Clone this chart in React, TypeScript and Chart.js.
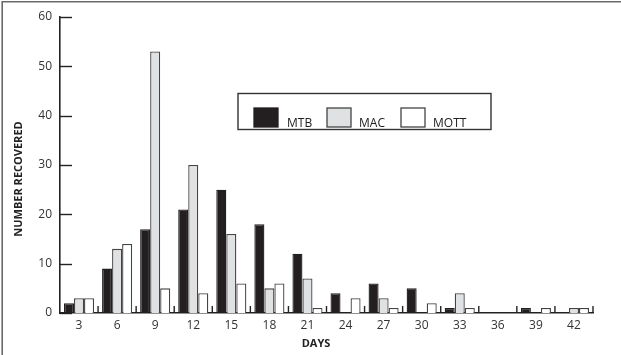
import React, { useEffect, useRef } from 'react';
import { Chart, registerables } from 'chart.js';

Chart.register(...registerables);

const days = ['3', '6', '9', '12', '15', '18', '21', '24', '27', '30', '33', '36', '39', '42'];
const mtb = [2, 9, 17, 21, 25, 18, 12, 4, 6, 5, 1, 0, 1, 0];
const mac = [3, 13, 53, 30, 16, 5, 7, 0, 3, 0, 4, 0, 0, 1];
const mott = [3, 14, 5, 4, 6, 6, 1, 3, 1, 2, 1, 0, 1, 1];
const seriesNames = ['MTB', 'MAC', 'MOTT'];
const xTitle = 'DAYS';
const yTitle = 'NUMBER RECOVERED';
const yMin = 0;
const yMax = 60;
const yStep = 10;

const FONT = "'Open Sans', 'Noto Sans', sans-serif";

const framePlugin = {
  id: 'frame',
  afterDraw(chart: any) {
    const { ctx, width, height } = chart;
    ctx.save();
    ctx.strokeStyle = '#6a6a6a';
    ctx.lineWidth = 1.6;
    ctx.beginPath();
    ctx.moveTo(2.2, height);
    ctx.lineTo(2.2, 1.8);
    ctx.lineTo(width, 1.8);
    ctx.stroke();
    ctx.restore();
  },
};

const axisTicksPlugin = {
  id: 'axisTicks',
  afterDraw(chart: any) {
    const { ctx } = chart;
    const x = chart.scales.x;
    const y = chart.scales.y;
    ctx.save();
    ctx.strokeStyle = '#222';
    ctx.lineWidth = 1.4;
    y.ticks.forEach((t: any) => {
      const py = Math.round(y.getPixelForValue(t.value)) + 0.5;
      ctx.beginPath();
      ctx.moveTo(x.left, py);
      ctx.lineTo(x.left + 12, py);
      ctx.stroke();
    });
    const n = x.ticks.length;
    const w = (x.right - x.left) / n;
    for (let i = 1; i <= n; i++) {
      const px = x.left + i * w;
      ctx.beginPath();
      ctx.moveTo(px, y.bottom);
      ctx.lineTo(px, y.bottom - 7);
      ctx.stroke();
    }
    ctx.restore();
  },
};

const axisTitlesPlugin = {
  id: 'axisTitles',
  afterDraw(chart: any, _args: any, opts: any) {
    const { ctx } = chart;
    ctx.save();
    ctx.fillStyle = '#222';
    ctx.font = `bold 11px ${FONT}`;
    ctx.textAlign = 'center';
    ctx.textBaseline = 'middle';
    ctx.fillText(opts.xText, opts.xPos[0], opts.xPos[1]);
    ctx.translate(opts.yPos[0], opts.yPos[1]);
    ctx.rotate(-Math.PI / 2);
    ctx.fillText(opts.yText, 0, 0);
    ctx.restore();
  },
};

const boxLegendPlugin = {
  id: 'boxLegend',
  afterDraw(chart: any, _args: any, opts: any) {
    const { ctx } = chart;
    const { left, top, width, height, swatchX, labelX, swatchTop, swatchW, swatchH, baseline } = opts;
    ctx.save();
    ctx.strokeStyle = '#333';
    ctx.lineWidth = 1.4;
    ctx.strokeRect(left, top, width, height);
    chart.data.datasets.forEach((ds: any, i: number) => {
      ctx.fillStyle = ds.backgroundColor;
      ctx.fillRect(swatchX[i], swatchTop, swatchW, swatchH);
      ctx.strokeStyle = ds.borderColor;
      ctx.lineWidth = 1.3;
      ctx.strokeRect(swatchX[i], swatchTop, swatchW, swatchH);
      ctx.fillStyle = '#222';
      ctx.font = `12px ${FONT}`;
      ctx.textBaseline = 'alphabetic';
      ctx.fillText(ds.label, labelX[i], baseline);
    });
    ctx.restore();
  },
};

export default function App() {
  const ref = useRef<HTMLCanvasElement | null>(null);

  useEffect(() => {
    if (!ref.current) return;
    const chart = new Chart(ref.current, {
      type: 'bar',
      data: {
        labels: days,
        datasets: [
          { label: seriesNames[0], data: mtb, backgroundColor: '#231f20', borderColor: '#231f20', borderWidth: 1.3 },
          { label: seriesNames[1], data: mac, backgroundColor: '#e0e1e3', borderColor: '#444', borderWidth: 1.3 },
          { label: seriesNames[2], data: mott, backgroundColor: '#ffffff', borderColor: '#444', borderWidth: 1.3 },
        ],
      },
      options: {
        animation: false,
        responsive: false,
        maintainAspectRatio: false,
        layout: { padding: { top: 17, right: 28, left: 0, bottom: 0 } },
        datasets: { bar: { categoryPercentage: 0.79, barPercentage: 1 } },
        plugins: {
          legend: { display: false },
          tooltip: { enabled: false },
          axisTitles: {
            xText: xTitle,
            yText: yTitle,
            xPos: [316, 344],
            yPos: [19, 179],
          },
          boxLegend: {
            left: 238,
            top: 93.5,
            width: 253,
            height: 36,
            swatchX: [254, 327, 401],
            labelX: [287, 359, 433],
            swatchTop: 108,
            swatchW: 24,
            swatchH: 19,
            baseline: 127,
          },
        } as any,
        scales: {
          x: {
            grid: { display: false, drawTicks: false },
            border: { display: true, color: '#222', width: 1.6 },
            ticks: { color: '#333', font: { family: FONT, size: 12 }, padding: 5, maxRotation: 0 },
            afterFit: (s: any) => { s.height = 42; },
          },
          y: {
            min: yMin,
            max: yMax,
            grid: { display: false, drawTicks: false },
            border: { display: true, color: '#222', width: 1.6 },
            ticks: { stepSize: yStep, color: '#333', font: { family: FONT, size: 12 }, padding: 8 },
            afterFit: (s: any) => { s.width = 60; },
          },
        },
      },
      plugins: [framePlugin, axisTicksPlugin, axisTitlesPlugin, boxLegendPlugin],
    });
    return () => chart.destroy();
  }, []);

  return (
    <div style={{ position: 'absolute', left: 0, top: 0, width: 621, height: 355, background: '#fff' }}>
      <canvas ref={ref} width={621} height={355} style={{ display: 'block' }} />
    </div>
  );
}
